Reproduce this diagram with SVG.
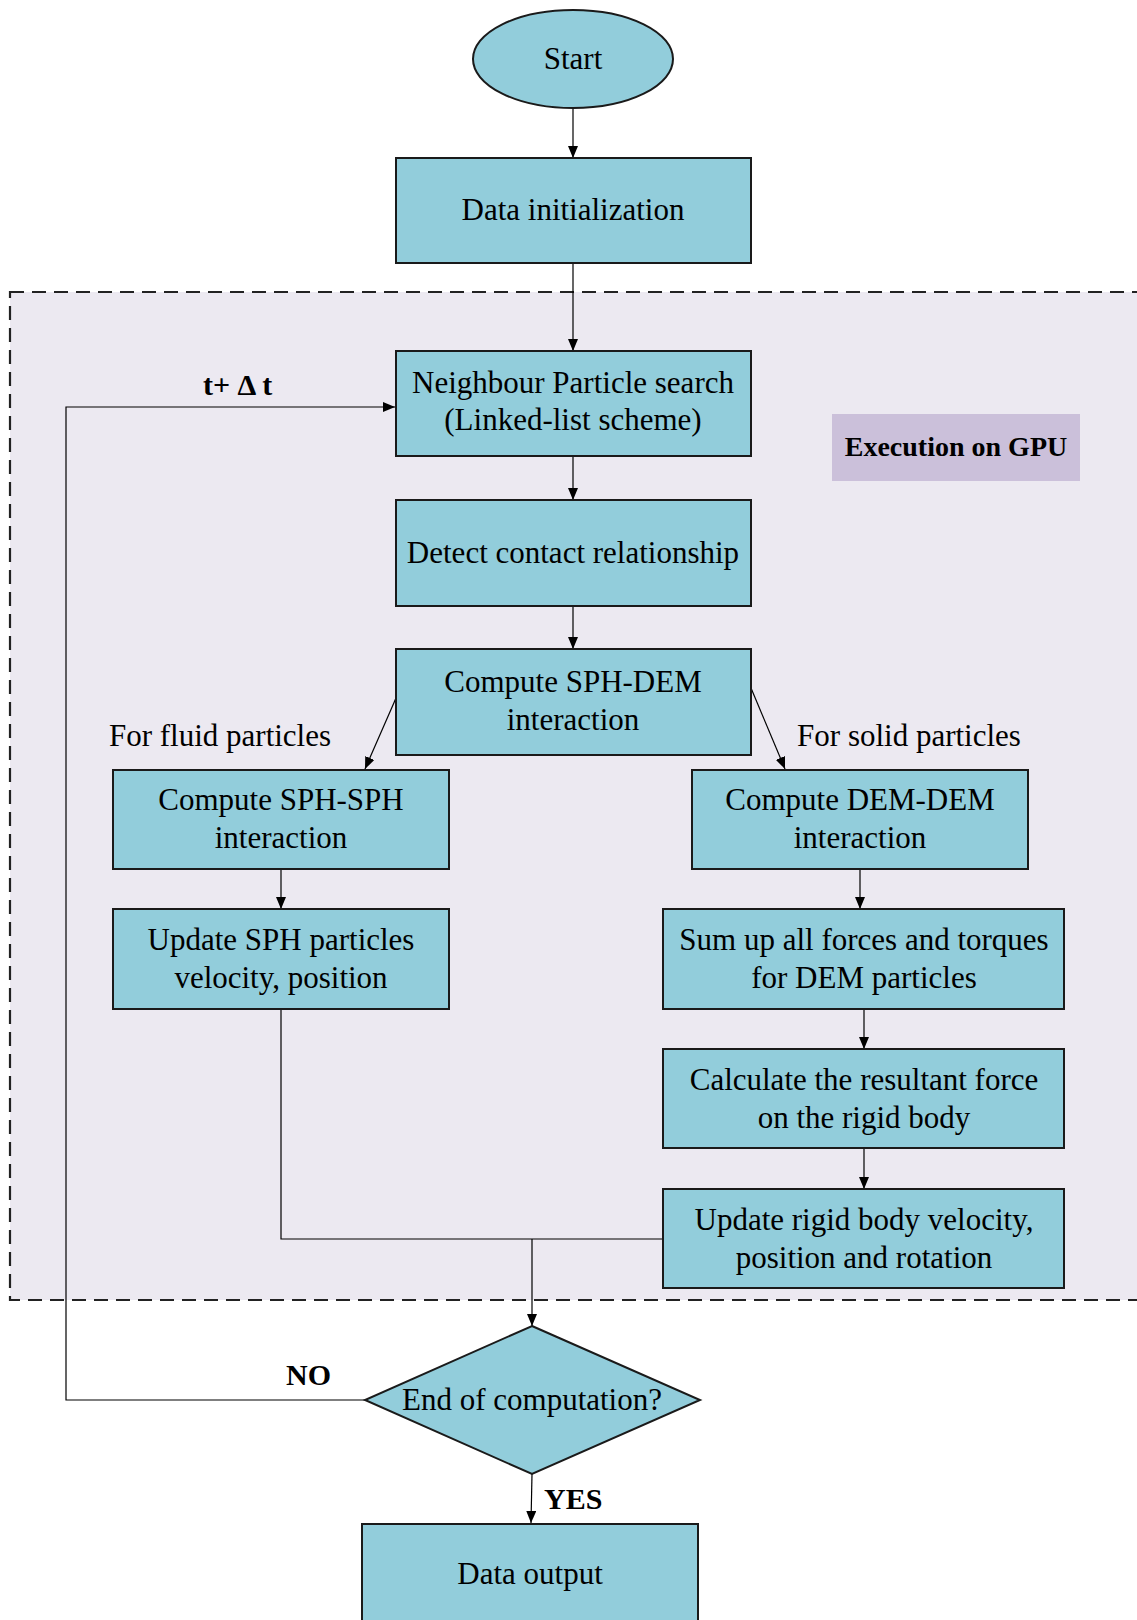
<svg xmlns="http://www.w3.org/2000/svg" width="1137" height="1620" viewBox="0 0 1137 1620">
<style>
.box{fill:#92CDDB;stroke:#1a1a1a;stroke-width:2}
.t{font-family:"Liberation Serif","Times New Roman",serif;font-size:31px;fill:#000;text-anchor:middle}
.b{font-family:"Liberation Serif","Times New Roman",serif;font-weight:bold;font-size:30px;fill:#000}
.c{fill:none;stroke:#000;stroke-width:1.2}
</style>
<defs>
<marker id="ah" markerWidth="12" markerHeight="10" refX="12" refY="5" orient="auto" markerUnits="userSpaceOnUse">
<path d="M0,0 L12,5 L0,10 Z" fill="#000"/>
</marker>
</defs>
<rect width="1137" height="1620" fill="#fff"/>
<g id="gpu-region">
<rect x="10" y="292" width="1140" height="1008" fill="#ECE9F1" stroke="#222" stroke-width="2.2" stroke-dasharray="14,8"/>
</g>
<g id="connectors">
<line class="c" x1="573" y1="108" x2="573" y2="158" marker-end="url(#ah)"/>
<line class="c" x1="573" y1="263" x2="573" y2="351" marker-end="url(#ah)"/>
<line class="c" x1="573" y1="456" x2="573" y2="500" marker-end="url(#ah)"/>
<line class="c" x1="573" y1="606" x2="573" y2="649" marker-end="url(#ah)"/>
<line class="c" x1="396" y1="698" x2="365" y2="769" marker-end="url(#ah)"/>
<line class="c" x1="751" y1="688" x2="785" y2="769" marker-end="url(#ah)"/>
<line class="c" x1="281" y1="869" x2="281" y2="909" marker-end="url(#ah)"/>
<line class="c" x1="860" y1="869" x2="860" y2="909" marker-end="url(#ah)"/>
<line class="c" x1="864" y1="1009" x2="864" y2="1049" marker-end="url(#ah)"/>
<line class="c" x1="864" y1="1148" x2="864" y2="1189" marker-end="url(#ah)"/>
<polyline class="c" points="281,1009 281,1239 663,1239"/>
<line class="c" x1="532" y1="1239" x2="532" y2="1326" marker-end="url(#ah)"/>
<polyline class="c" points="365,1400 66,1400 66,407 395,407" marker-end="url(#ah)"/>
<line class="c" x1="532" y1="1474" x2="531" y2="1523" marker-end="url(#ah)"/>
<text class="b" x="203" y="395">t+ Δ t</text>
<text class="b" x="286" y="1385">NO</text>
<text class="b" x="544" y="1509">YES</text>
<text class="t" x="220" y="746">For fluid particles</text>
<text class="t" x="909" y="746">For solid particles</text>
</g>
<g id="start">
<ellipse class="box" cx="573" cy="59" rx="100" ry="49"/>
<text class="t" x="573" y="69">Start</text>
</g>
<g id="data-init">
<rect class="box" x="396" y="158" width="355" height="105"/>
<text class="t" x="573" y="220">Data initialization</text>
</g>
<g id="neighbour">
<rect class="box" x="396" y="351" width="355" height="105"/>
<text class="t" x="573" y="393">Neighbour Particle search</text>
<text class="t" x="573" y="430">(Linked-list scheme)</text>
</g>
<g id="gpu-label">
<rect x="832" y="414" width="248" height="67" fill="#CBC0DA"/>
<text class="b" x="956" y="456" style="text-anchor:middle;font-size:28px">Execution on GPU</text>
</g>
<g id="detect">
<rect class="box" x="396" y="500" width="355" height="106"/>
<text class="t" x="573" y="563">Detect contact relationship</text>
</g>
<g id="sph-dem">
<rect class="box" x="396" y="649" width="355" height="106"/>
<text class="t" x="573" y="692">Compute SPH-DEM</text>
<text class="t" x="573" y="730">interaction</text>
</g>
<g id="sph-sph">
<rect class="box" x="113" y="770" width="336" height="99"/>
<text class="t" x="281" y="810">Compute SPH-SPH</text>
<text class="t" x="281" y="848">interaction</text>
</g>
<g id="dem-dem">
<rect class="box" x="692" y="770" width="336" height="99"/>
<text class="t" x="860" y="810">Compute DEM-DEM</text>
<text class="t" x="860" y="848">interaction</text>
</g>
<g id="update-sph">
<rect class="box" x="113" y="909" width="336" height="100"/>
<text class="t" x="281" y="950">Update SPH particles</text>
<text class="t" x="281" y="988">velocity, position</text>
</g>
<g id="sum-forces">
<rect class="box" x="663" y="909" width="401" height="100"/>
<text class="t" x="864" y="950">Sum up all forces and torques</text>
<text class="t" x="864" y="988">for DEM particles</text>
</g>
<g id="resultant">
<rect class="box" x="663" y="1049" width="401" height="99"/>
<text class="t" x="864" y="1090">Calculate the resultant force</text>
<text class="t" x="864" y="1128">on the rigid body</text>
</g>
<g id="update-rigid">
<rect class="box" x="663" y="1189" width="401" height="99"/>
<text class="t" x="864" y="1230">Update rigid body velocity,</text>
<text class="t" x="864" y="1268">position and rotation</text>
</g>
<g id="decision">
<polygon class="box" points="532,1326 700,1400 532,1474 365,1400"/>
<text class="t" x="532" y="1410">End of computation?</text>
</g>
<g id="data-output">
<rect class="box" x="362" y="1524" width="336" height="110"/>
<text class="t" x="530" y="1584">Data output</text>
</g>
</svg>
